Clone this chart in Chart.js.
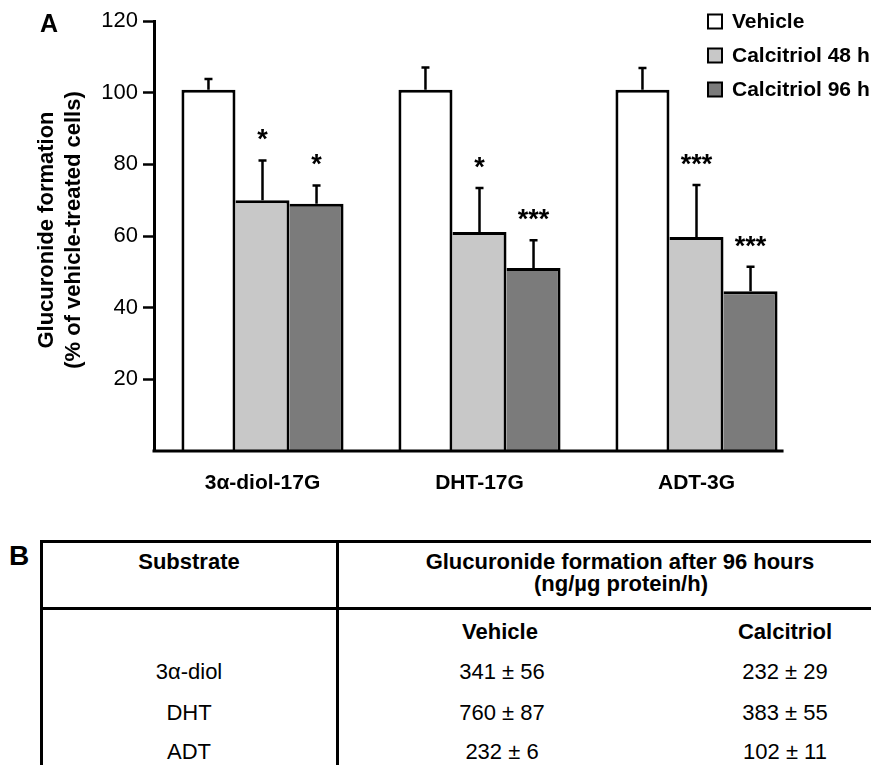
<!DOCTYPE html>
<html>
<head>
<meta charset="utf-8">
<title>Glucuronide formation</title>
<script src="https://cdn.jsdelivr.net/npm/chart.js@4.4.0/dist/chart.umd.min.js"></script>
<style>
    body { margin: 0; background: #fff; }
    #wrap { position: relative; width: 871px; height: 765px; font-family: "Liberation Sans", Arial, sans-serif; color: #000; }
    #chart { position: absolute; left: 0; top: 0; }
    .txt { position: absolute; transform: translate(-50%, -50%); white-space: nowrap; font-size: 22px; line-height: 1; }
    .bold { font-weight: bold; }
    .line { position: absolute; background: #000; }
</style>
</head>
<body>
<div id="wrap">
    <canvas id="chart" width="871" height="500"></canvas>
    <div id="tableB"></div>
</div>
<script>
// Panel A data
const categories = ['3α-diol-17G', 'DHT-17G', 'ADT-3G'];
const seriesNames = ['Vehicle', 'Calcitriol 48 h', 'Calcitriol 96 h'];
const vehicle = [100.8, 100.8, 100.8];
const calcitriol48 = [70.0, 61.1, 59.7];
const calcitriol96 = [69.0, 51.1, 44.6];
const vehicleErr = [3.0, 6.2, 6.1];
const calcitriol48Err = [11.1, 12.3, 14.5];
const calcitriol96Err = [5.1, 7.7, 6.8];
const vehicleStars = ['', '', ''];
const calcitriol48Stars = ['*', '*', '***'];
const calcitriol96Stars = ['*', '***', '***'];
const yTicks = [20, 40, 60, 80, 100, 120];

// Panel B data
const substrates = ['3α-diol', 'DHT', 'ADT'];
const vehicleMean = [341, 760, 232];
const vehicleSd = [56, 87, 6];
const calcitriolMean = [232, 383, 102];
const calcitriolSd = [29, 55, 11];

const FONT = '"Liberation Sans", Arial, sans-serif';

// error bars + significance stars
const errorBars = {
    id: 'errorBars',
    afterDatasetsDraw(chart) {
        const ctx = chart.ctx;
        const yScale = chart.scales.y;
        chart.data.datasets.forEach((ds, i) => {
            chart.getDatasetMeta(i).data.forEach((bar, j) => {
                const top = yScale.getPixelForValue(ds.data[j] + ds.errors[j]);
                ctx.save();
                ctx.strokeStyle = '#000';
                ctx.lineWidth = 2.5;
                ctx.beginPath();
                ctx.moveTo(bar.x, bar.y);
                ctx.lineTo(bar.x, top);
                ctx.moveTo(bar.x - 4, top);
                ctx.lineTo(bar.x + 4, top);
                ctx.stroke();
                if (ds.stars[j]) {
                    ctx.fillStyle = '#000';
                    ctx.font = 'bold 27px ' + FONT;
                    ctx.textAlign = 'center';
                    ctx.textBaseline = 'alphabetic';
                    ctx.fillText(ds.stars[j], bar.x, top - 12);
                }
                ctx.restore();
            });
        });
    }
};

// baseline, legend, panel letter and y title
const decorations = {
    id: 'decorations',
    afterDraw(chart) {
        const ctx = chart.ctx;
        const area = chart.chartArea;
        const last = chart.getDatasetMeta(chart.data.datasets.length - 1).data;
        const lastBar = last[last.length - 1];
        ctx.save();
        ctx.strokeStyle = '#000';
        ctx.lineWidth = 3;
        ctx.beginPath();
        ctx.moveTo(area.left - 1.5, area.bottom);
        ctx.lineTo(lastBar.x + lastBar.width / 2 + 6, area.bottom);
        ctx.stroke();

        // legend
        ctx.font = 'bold 21px ' + FONT;
        ctx.textBaseline = 'middle';
        ctx.textAlign = 'left';
        chart.data.datasets.forEach((ds, i) => {
            const cy = 21.5 + i * 34;
            ctx.fillStyle = ds.backgroundColor;
            ctx.fillRect(708, cy - 7, 14, 14);
            ctx.lineWidth = 2;
            ctx.strokeRect(708, cy - 7, 14, 14);
            ctx.fillStyle = '#000';
            ctx.fillText(ds.label, 732, cy + 1);
        });

        // panel letter
        ctx.font = 'bold 25px ' + FONT;
        ctx.textAlign = 'center';
        ctx.fillText('A', 49, 25);

        // y title
        ctx.font = 'bold 22px ' + FONT;
        ctx.translate(0, 230);
        ctx.rotate(-Math.PI / 2);
        ctx.fillText('Glucuronide formation', 0, 47);
        ctx.fillText('(% of vehicle-treated cells)', 0, 74);
        ctx.restore();
    }
};

new Chart(document.getElementById('chart'), {
    type: 'bar',
    data: {
        labels: categories,
        datasets: [
            {
                label: seriesNames[0],
                data: vehicle,
                errors: vehicleErr,
                stars: vehicleStars,
                backgroundColor: '#ffffff',
                borderColor: '#000',
                borderWidth: { top: 3, left: 3, right: 3, bottom: 0 },
                borderSkipped: false
            },
            {
                label: seriesNames[1],
                data: calcitriol48,
                errors: calcitriol48Err,
                stars: calcitriol48Stars,
                backgroundColor: '#c8c8c8',
                borderColor: '#000',
                borderWidth: { top: 3, left: 0, right: 3, bottom: 0 },
                borderSkipped: false
            },
            {
                label: seriesNames[2],
                data: calcitriol96,
                errors: calcitriol96Err,
                stars: calcitriol96Stars,
                backgroundColor: '#7b7b7b',
                borderColor: '#000',
                borderWidth: { top: 3, left: 0, right: 3, bottom: 0 },
                borderSkipped: false
            }
        ]
    },
    options: {
        responsive: false,
        animation: false,
        devicePixelRatio: 1,
        categoryPercentage: 0.747,
        barPercentage: 1,
        layout: { padding: { top: 21, right: 66, left: 0, bottom: 0 } },
        plugins: {
            legend: { display: false },
            tooltip: { enabled: false }
        },
        scales: {
            x: {
                grid: { display: false },
                border: { display: false },
                ticks: {
                    color: '#000',
                    font: { family: FONT, size: 21, weight: 'bold' },
                    padding: 12,
                    maxRotation: 0
                },
                afterFit(scale) { scale.height = 49; }
            },
            y: {
                min: 0,
                max: 120,
                afterBuildTicks(scale) { scale.ticks = yTicks.map(v => ({ value: v })); },
                grid: {
                    drawOnChartArea: false,
                    drawTicks: true,
                    tickLength: 11,
                    tickWidth: 2.5,
                    tickColor: '#000'
                },
                border: { display: true, color: '#000', width: 3 },
                ticks: {
                    color: '#000',
                    font: { family: FONT, size: 22 },
                    padding: 5
                },
                afterFit(scale) { scale.width = 154; }
            }
        }
    },
    plugins: [errorBars, decorations]
});

// Panel B table
const tableB = document.getElementById('tableB');
function addText(text, cx, cy, bold) {
    const el = document.createElement('div');
    el.className = 'txt' + (bold ? ' bold' : '');
    el.textContent = text;
    el.style.left = cx + 'px';
    el.style.top = cy + 'px';
    tableB.appendChild(el);
}
function addLine(x, y, w, h) {
    const el = document.createElement('div');
    el.className = 'line';
    el.style.left = x + 'px';
    el.style.top = y + 'px';
    el.style.width = w + 'px';
    el.style.height = h + 'px';
    tableB.appendChild(el);
}

addLine(40, 540, 831, 2.5);
addLine(40, 540, 2.5, 225);
addLine(336, 540, 2.5, 225);
addLine(40, 607, 831, 2.5);

const bl = document.createElement('div');
bl.className = 'txt bold';
bl.style.fontSize = '28px';
bl.textContent = 'B';
bl.style.left = '19px';
bl.style.top = '556px';
tableB.appendChild(bl);

addText('Substrate', 189, 562, true);
addText('Glucuronide formation after 96 hours', 620, 562, true);
addText('(ng/µg protein/h)', 621, 584, true);
addText('Vehicle', 500, 632, true);
addText('Calcitriol', 785, 632, true);

const rowY = [672, 713, 752];
substrates.forEach((s, i) => {
    addText(s, 189, rowY[i], false);
    addText(vehicleMean[i] + ' ± ' + vehicleSd[i], 502, rowY[i], false);
    addText(calcitriolMean[i] + ' ± ' + calcitriolSd[i], 785, rowY[i], false);
});
</script>
</body>
</html>
